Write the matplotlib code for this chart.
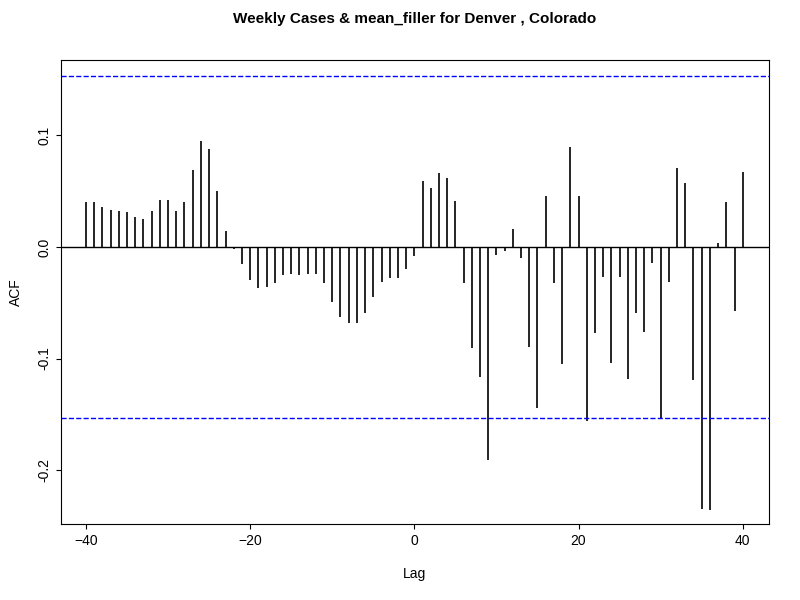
import numpy as np
from matplotlib import pyplot as plt

plt.rcParams['font.family'] = ['Liberation Sans', 'DejaVu Sans']

lags = np.arange(-40, 41)
acf = [0.040, 0.040, 0.036, 0.033, 0.032, 0.031, 0.027, 0.025, 0.032, 0.042,
       0.042, 0.032, 0.040, 0.069, 0.095, 0.088, 0.050, 0.014, -0.002, -0.015,
       -0.030, -0.037, -0.036, -0.032, -0.025, -0.024, -0.025, -0.024, -0.024, -0.032,
       -0.049, -0.063, -0.068, -0.068, -0.059, -0.045, -0.031, -0.028, -0.028, -0.020,
       -0.008,
       0.059, 0.053, 0.066, 0.062, 0.041, -0.032, -0.091, -0.117, -0.191, -0.007,
       -0.004, 0.016, -0.010, -0.090, -0.144, 0.046, -0.032, -0.105, 0.090, 0.046,
       -0.156, -0.077, -0.027, -0.104, -0.027, -0.118, -0.059, -0.076, -0.014, -0.153,
       -0.031, 0.071, 0.057, -0.119, -0.235, -0.236, 0.004, 0.040, -0.057, 0.067]
ci = 0.1535

fig = plt.figure(figsize=(8, 6), dpi=100)
ax = fig.add_axes([61 / 800, 76 / 600, 708 / 800, 464 / 600])
ax.vlines(lags, 0, acf, colors='black', linewidth=1.2)
ax.axhline(0, color='black', linewidth=1)
ax.axhline(ci, color='blue', linestyle='--', linewidth=1)
ax.axhline(-ci, color='blue', linestyle='--', linewidth=1)
ax.set_xlim(-43.04, 43.2)
ax.set_ylim(-0.2484, 0.1677)
ax.set_xticks([-40, -20, 0, 20, 40])
ax.set_yticks([-0.2, -0.1, 0.0, 0.1])
ax.set_yticklabels(['-0.2', '-0.1', '0.0', '0.1'], rotation=90, va='center')
ax.tick_params(labelsize=10)
ax.set_xlabel('Lag', fontsize=10, labelpad=14)
ax.set_ylabel('ACF', fontsize=10, labelpad=10)
ax.set_title('Weekly Cases & mean_filler for Denver , Colorado', fontsize=11,
             fontweight='bold', pad=27)
fig.savefig('out.png')
